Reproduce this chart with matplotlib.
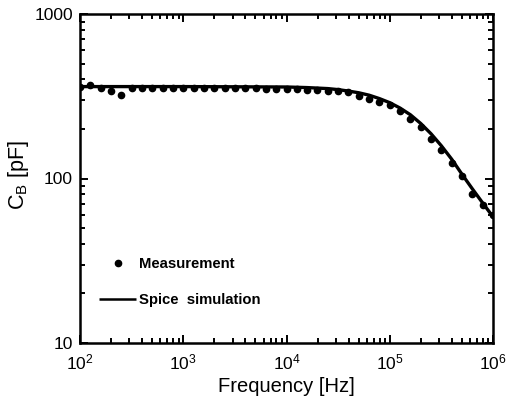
import matplotlib
matplotlib.use("Agg")
import matplotlib.pyplot as plt
import numpy as np

plt.rcParams['font.family'] = ['Liberation Sans', 'DejaVu Sans']
plt.rcParams['mathtext.fontset'] = 'custom'
plt.rcParams['mathtext.rm'] = 'Liberation Sans'
plt.rcParams['mathtext.it'] = 'Liberation Sans:italic'
plt.rcParams['mathtext.bf'] = 'Liberation Sans:bold'

# Measurement: frequency exponents (log10 Hz) and capacitance (pF)
meas_logf = [2.0, 2.1, 2.2, 2.3, 2.4, 2.5, 2.6, 2.7, 2.8, 2.9,
             3.0, 3.1, 3.2, 3.3, 3.4, 3.5, 3.6, 3.7, 3.8, 3.9,
             4.0, 4.1, 4.2, 4.3, 4.4, 4.5, 4.6, 4.7, 4.8, 4.9,
             5.0, 5.1, 5.2, 5.3, 5.4, 5.5, 5.6, 5.7, 5.8, 5.9, 6.0]
meas_cb = [360, 369, 354, 339, 321, 357, 357, 357, 357, 357,
           357, 357, 357, 357, 357, 356, 356, 355, 352, 352,
           352, 349, 345, 345, 339, 339, 336, 316, 304, 293,
           280, 257, 229, 207, 175, 149, 124, 103, 81, 69, 60]

# Spice simulation: frequency exponents (log10 Hz) and capacitance (pF)
sim_logf = [2.0, 3.0, 3.5, 4.0, 4.2, 4.4, 4.5, 4.6, 4.7, 4.8, 4.9,
            5.0, 5.1, 5.2, 5.3, 5.4, 5.5, 5.6, 5.7, 5.8, 5.9, 6.0]
sim_cb = [362, 362, 361, 360, 357, 352, 347, 340, 332, 321, 306,
          289, 268, 244, 216, 187, 158, 131, 106, 86.5, 71, 58.5]

meas_freq = [10 ** v for v in meas_logf]
sim_freq = [10 ** v for v in sim_logf]

fig = plt.figure(figsize=(5.09, 4.07), dpi=100)
ax = fig.add_axes([80/509, 1 - 343/407, 413/509, 329/407])

ax.plot(sim_freq, sim_cb, color='black', lw=2.4, solid_capstyle='butt',
        solid_joinstyle='round', label='Spice  simulation', zorder=2)
ax.plot(meas_freq, meas_cb, 'o', color='black', ms=4.5, ls='none',
        label='Measurement', zorder=3)

ax.set_xscale('log')
ax.set_yscale('log')
ax.set_xlim(1e2, 1e6)
ax.set_ylim(10, 1000)

xt = [1e2, 1e3, 1e4, 1e5, 1e6]
xl = [r'$\mathregular{10^{2}}$', r'$\mathregular{10^{3}}$', r'$\mathregular{10^{4}}$',
      r'$\mathregular{10^{5}}$', r'$\mathregular{10^{6}}$']
yt = [10, 100, 1000]
yl = ['10', '100', '1000']
ax.set_xticks(xt)
ax.set_xticklabels(xl)
ax.set_yticks(yt)
ax.set_yticklabels(yl)

for s in ax.spines.values():
    s.set_linewidth(1.8)
ax.tick_params(which='both', direction='in', top=True, right=True, width=1.4)
ax.tick_params(which='major', length=6, labelsize=12.5)
ax.tick_params(axis='x', which='major', pad=7)
ax.tick_params(axis='y', which='major', pad=5)
ax.tick_params(which='minor', length=3.5)

ax.set_xlabel('Frequency [Hz]', fontsize=14.5, labelpad=3)
ax.set_ylabel(r'C$_\mathregular{B}$ [pF]', fontsize=15.5)
ax.yaxis.set_label_coords(-0.118, 0.51)

h, l = ax.get_legend_handles_labels()
leg = ax.legend([h[1], h[0]], [l[1], l[0]], loc='upper left',
                bbox_to_anchor=(0.045, 0.262), frameon=False,
                prop={'weight': 'bold', 'size': 10.7}, handlelength=2.55,
                handletextpad=0.15, labelspacing=1.5, borderpad=0,
                borderaxespad=0, numpoints=1)
leg.get_lines()[1].set_linewidth(1.8)

fig.savefig('out.png', dpi=100)
